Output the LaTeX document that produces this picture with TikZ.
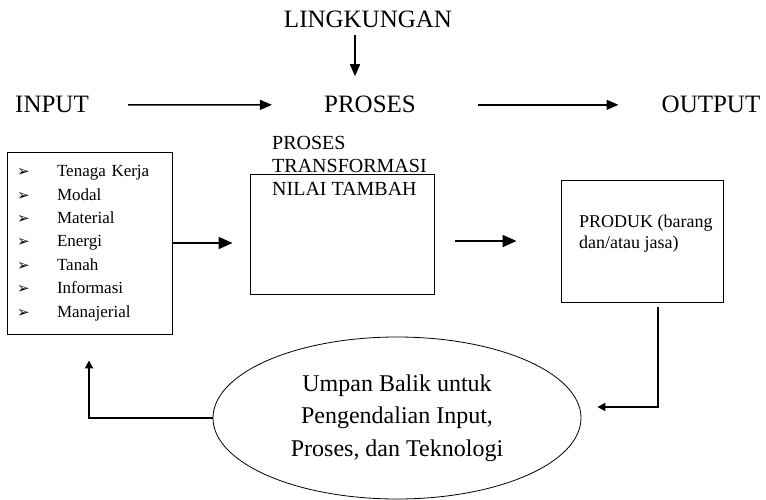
\documentclass[tikz,border=0pt]{standalone}
\usepackage{fontspec}
\setmainfont{Liberation Serif}
\newfontfamily\dingfont{DejaVu Sans}
\usepackage{tikz}
\usetikzlibrary{arrows.meta,shapes.geometric}

\tikzset{
  biglabel/.style={inner sep=0pt, anchor=base, font=\fontsize{25}{30}\selectfont},
  boxnode/.style={draw, line width=0.9pt, inner sep=0pt},
  toparrow/.style={line width=1.4pt, -{Triangle[length=12pt,width=10pt]}},
  midarrow/.style={line width=1.8pt, -{Triangle[length=14pt,width=12pt]}},
  backarrow/.style={line width=1.8pt, -{Triangle[length=8pt,width=8pt]}},
}
\newcommand{\butir}[1]{\makebox[44pt][l]{\hspace{4pt}{\dingfont\fontsize{15}{15}\selectfont ➢}}#1}

\begin{document}
\begin{tikzpicture}[x=1pt,y=-1pt]
  \useasboundingbox (0,0) rectangle (766,500);

  \node[biglabel] (ling) at (368,28) {LINGKUNGAN};
  \node[biglabel] (input) at (52,113) {INPUT};
  \node[biglabel] (proses) at (370,113) {PROSES};
  \node[biglabel] (output) at (711,113) {OUTPUT};

  \draw[toparrow, shorten <=7pt, shorten >=20pt] (ling.south -| 355,0) -- (proses.north -| 355,0);
  \draw[toparrow, shorten <=39pt, shorten >=52pt] (input.east) -- (proses.west);
  \draw[toparrow, shorten <=62pt, shorten >=43pt] (proses.east) -- (output.west);

  % kotak input
  \node[boxnode, minimum width=165pt, minimum height=182pt, text width=153pt, align=left,
        font=\fontsize{17}{23.4}\selectfont] (inbox) at (89.5,243)
    {\butir{Tenaga Kerja}\\\butir{Modal}\\\butir{Material}\\\butir{Energi}\\
     \butir{Tanah}\\\butir{Informasi}\\\butir{Manajerial}};

  % kotak proses
  \node[boxnode, minimum width=184pt, minimum height=120pt] (ubah) at (342,234) {};
  \node[inner sep=0pt, anchor=north west, align=left, font=\fontsize{20}{23}\selectfont]
    (ubahteks) at (272,136) {PROSES\\TRANSFORMASI\\NILAI TAMBAH};

  % kotak produk
  \node[boxnode, minimum width=162pt, minimum height=122pt] (produk) at (642,241) {};
  \node[inner sep=0pt, anchor=north west, align=left, font=\fontsize{18}{21}\selectfont]
    (produkteks) at (579,214.5) {PRODUK (barang\\dan/atau jasa)};

  % umpan balik
  \node[ellipse, draw, line width=0.8pt, minimum width=368pt, minimum height=162pt,
        inner sep=0pt, align=center, font=\fontsize{24}{32.5}\selectfont] (umpan) at (397,418)
    {Umpan Balik untuk\\Pengendalian Input,\\Proses, dan Teknologi};

  \draw[midarrow, shorten >=17pt] (inbox.east) -- (inbox.east -| ubah.west);
  \draw[midarrow, shorten <=21pt, shorten >=44pt] (ubah.east |- produk.west) -- (produk.west);
  \draw[backarrow, shorten <=5pt, shorten >=16pt] (produk.south -| 658,0) |- (umpan.east |- 0,407);
  \draw[backarrow, shorten >=26pt] (umpan.west) -| (inbox.south -| 89,0);
\end{tikzpicture}
\end{document}
